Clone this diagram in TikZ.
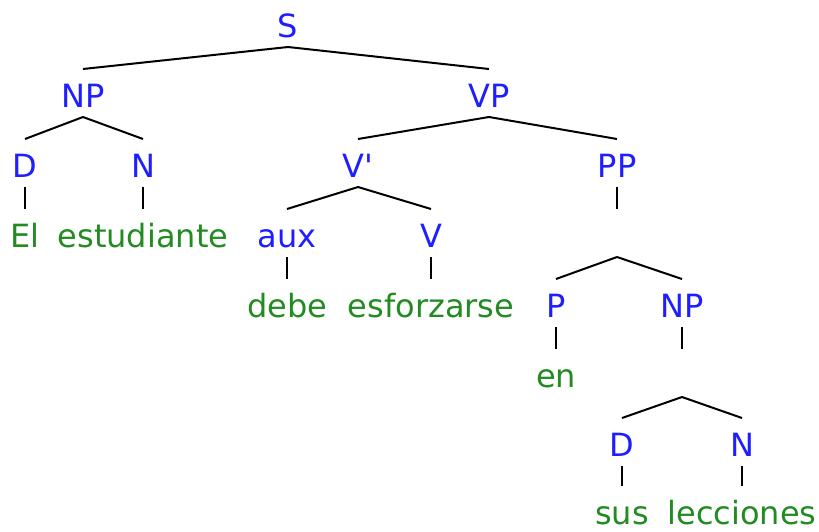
\documentclass[tikz,border=0pt]{standalone}
\usepackage{fontspec}
\setmainfont{DejaVu Sans}
\definecolor{catblue}{RGB}{30,30,255}
\definecolor{wordgreen}{RGB}{34,139,34}
\tikzset{
	cat/.style={text=catblue, anchor=base, inner sep=0pt, outer sep=0pt, text height=38pt, text depth=10pt, font=\fontsize{32}{38}\selectfont},
	word/.style={cat, text=wordgreen, text depth=1pt},
	branch/.style={black, line width=2pt}
}

\begin{document}
\begin{tikzpicture}[x=1pt,y=-1pt]
			\useasboundingbox (0,0) rectangle (819,531);
			% categories
			\node[cat] (s) at (288,37) {S};
			\node[cat] (np1) at (83,107) {NP};
			\node[cat] (vp) at (489,107) {VP};
			\node[cat] (d1) at (25,177) {D};
			\node[cat] (n1) at (143,177) {N};
			\node[cat] (vbar) at (358,177) {V\textquotesingle};
			\node[cat] (pp) at (617,177) {PP};
			\node[cat] (aux) at (287,247) {aux};
			\node[cat] (v) at (431,247) {V};
			\node[cat] (ppbar) at (617,247) {};
			\node[cat] (p) at (556,317) {P};
			\node[cat] (np2) at (682,317) {NP};
			\node[cat] (npbar) at (682,387) {};
			\node[cat] (d2) at (622,456) {D};
			\node[cat] (n2) at (742,456) {N};
			% words
			\node[word] (el) at (25,247) {El};
			\node[word] (estudiante) at (143,247) {estudiante};
			\node[word] (debe) at (287,317) {debe};
			\node[word] (esforzarse) at (431,317) {esforzarse};
			\node[word] (en) at (556,387) {en};
			\node[word] (sus) at (622,524) {sus};
			\node[word] (lecciones) at (742,524) {lecciones};
			\path[branch]
			(s.south) edge (np1.north)
			(s.south) edge (vp.north)
			(np1.south) edge (d1.north)
			(np1.south) edge (n1.north)
			(vp.south) edge (vbar.north)
			(vp.south) edge (pp.north)
			(d1.south) edge (el.north)
			(n1.south) edge (estudiante.north)
			(vbar.south) edge (aux.north)
			(vbar.south) edge (v.north)
			(pp.south) edge (ppbar.north)
			(aux.south) edge (debe.north)
			(v.south) edge (esforzarse.north)
			(ppbar.south) edge (p.north)
			(ppbar.south) edge (np2.north)
			(p.south) edge (en.north)
			(np2.south) edge (npbar.north)
			(npbar.south) edge (d2.north)
			(npbar.south) edge (n2.north)
			(d2.south) edge (sus.north)
			(n2.south) edge (lecciones.north);
		\end{tikzpicture}
\end{document}
